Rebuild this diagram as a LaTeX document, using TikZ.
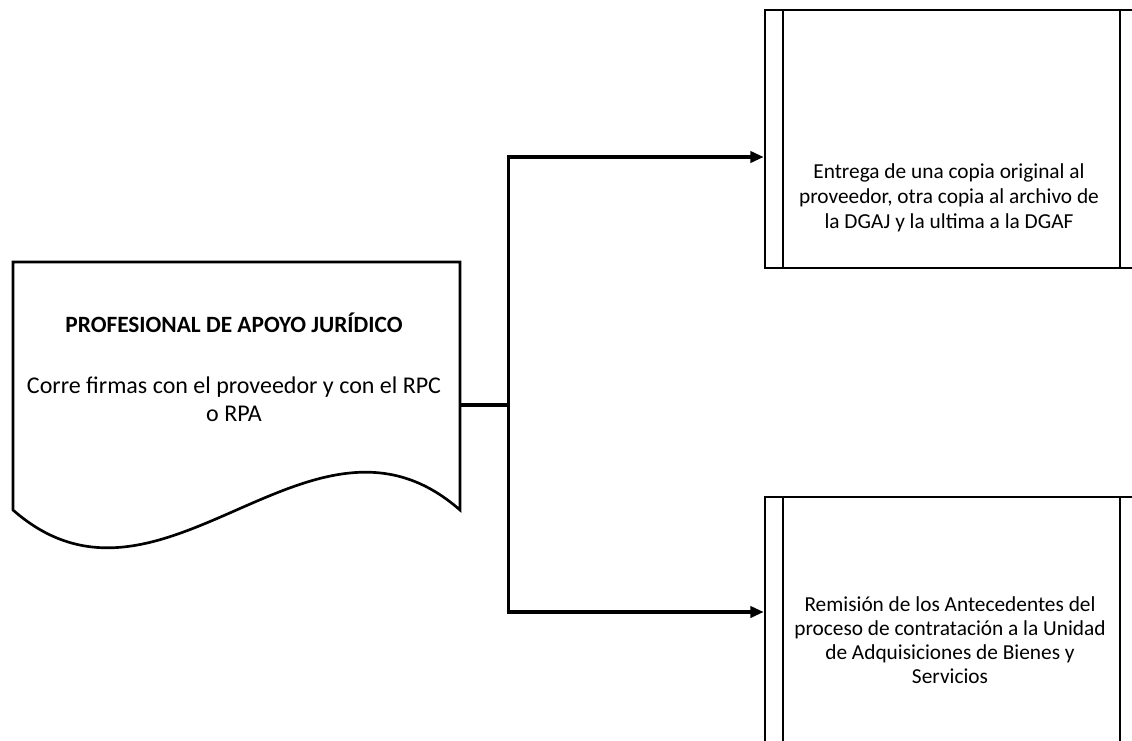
\documentclass[tikz,border=0pt]{standalone}
\usepackage{fontspec}
\setmainfont{Carlito}
\usetikzlibrary{arrows.meta}
\begin{document}
\begin{tikzpicture}[x=0.75pt,y=-0.75pt,
  outline/.style={draw=black,line width=2pt,line join=miter},
  conn/.style={draw=black,line width=2.3pt},
  arr/.style={conn,-{Triangle[length=10pt,width=8.5pt]}},
  txt/.style={align=center,font=\fontsize{16}{18.75}\selectfont,inner sep=0pt},
  doctxt/.style={align=center,font=\fontsize{18}{21}\selectfont,inner sep=0pt},
  procbox/.style={outline,rectangle,minimum width=373*0.75pt,minimum height=258*0.75pt,inner sep=0pt}]
\useasboundingbox (0,0) rectangle (1132,740);
\clip (0,0) rectangle (1132,740);
% document shape
\node[minimum width=447*0.75pt,minimum height=286*0.75pt,inner sep=0pt] (doc) at (236.5,405) {};
\draw[outline] (13,262) -- (460,262) -- (460,510)
  .. controls (311,379) and (162,641) .. (13,510) -- cycle;
\node[doctxt,font=\fontsize{17.5}{21}\selectfont\bfseries] (doctitle) at (234,323) {PROFESIONAL DE APOYO JURÍDICO};
\node[doctxt] (docbody) at (234,399) {Corre firmas con el proveedor y con el RPC\\o RPA};
% process boxes
\node[procbox] (top) at (951.5,139) {};
\draw[outline] (783,10) -- (783,268) (1120,10) -- (1120,268);
\node[txt] (toptxt) at (949,198) {Entrega de una copia original al\\proveedor, otra copia al archivo de\\la DGAJ y la ultima a la DGAF};
\node[procbox] (bot) at (951.5,626) {};
\draw[outline] (783,497) -- (783,755) (1120,497) -- (1120,755);
\node[txt,font=\fontsize{16}{18}\selectfont] (bottxt) at (950,640) {Remisión de los Antecedentes del\\proceso de contratación a la Unidad\\de Adquisiciones de Bienes y\\Servicios};
% connectors
\draw[conn] (doc.east) -- ++(48,0) coordinate (j);
\draw[arr] (j) |- ([yshift=-13.5pt]top.west);
\draw[arr] (j) |- ([yshift=10.5pt]bot.west);
\end{tikzpicture}
\end{document}
